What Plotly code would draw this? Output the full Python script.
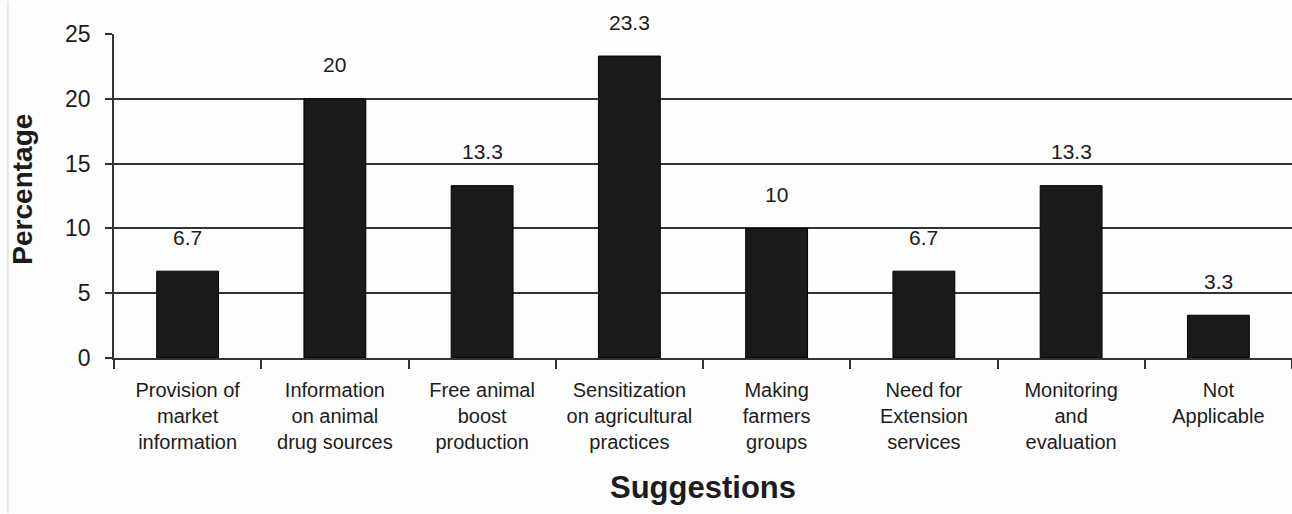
import plotly.graph_objects as go

# Suggestions and their share of respondents (%)
categories = [
    "Provision of<br>market<br>information",
    "Information<br>on animal<br>drug sources",
    "Free animal<br>boost<br>production",
    "Sensitization<br>on agricultural<br>practices",
    "Making<br>farmers<br>groups",
    "Need for<br>Extension<br>services",
    "Monitoring<br>and<br>evaluation",
    "Not<br>Applicable",
]
percentages = [6.7, 20, 13.3, 23.3, 10, 6.7, 13.3, 3.3]
y_ticks = [0, 5, 10, 15, 20, 25]

FONT = "Arial, Liberation Sans, sans-serif"
INK = "#1c1c1c"

fig = go.Figure(
    go.Bar(
        x=categories,
        y=percentages,
        marker=dict(color="#1a1a1a", line=dict(color="#000000", width=1)),
        hoverinfo="skip",
    )
)

# value labels floating above each bar
for cat, val in zip(categories, percentages):
    fig.add_annotation(
        x=cat, y=val, text=f"{val:g}", showarrow=False,
        yanchor="middle", yshift=34,
        font=dict(family=FONT, size=21, color=INK),
    )

# axis titles
fig.add_annotation(
    x=-0.078, xref="paper", y=0.52, yref="paper", text="<b>Percentage</b>",
    showarrow=False, textangle=-90, xanchor="center", yanchor="middle",
    font=dict(family=FONT, size=28, color=INK),
)
fig.add_annotation(
    x=0.5, xref="paper", y=-0.40, yref="paper", text="<b>Suggestions</b>",
    showarrow=False, yanchor="middle", font=dict(family=FONT, size=31, color=INK),
)

fig.update_layout(
    width=1292, height=514,
    margin=dict(l=114, r=0, t=34, b=156),
    paper_bgcolor="#fdfdfd", plot_bgcolor="#fdfdfd",
    bargap=0.58, showlegend=False,
    font=dict(family=FONT, color=INK),
)
fig.update_xaxes(
    type="category", showline=True, linecolor="#333333", linewidth=1.5,
    ticks="outside", tickson="boundaries", ticklen=9, tickcolor="#333333", tickwidth=1.5,
    ticklabelstandoff=13,
    tickfont=dict(family=FONT, size=20, color=INK), showgrid=False,
)
fig.update_yaxes(
    range=[0, 25], tickvals=y_ticks, showline=True, linecolor="#333333", linewidth=1.5,
    ticks="outside", ticklen=7, tickcolor="#333333", tickwidth=1.5,
    ticklabelstandoff=10,
    tickfont=dict(family=FONT, size=23, color=INK),
    showgrid=True, gridcolor="#333333", gridwidth=1.5, zeroline=False,
)

# thin frame edge on the left of the figure
fig.add_shape(type="line", xref="paper", yref="paper", x0=-0.09, x1=-0.09, y0=-0.48, y1=1.1,
              line=dict(color="#e2e2e2", width=1.5))

fig.write_html("out.html")
